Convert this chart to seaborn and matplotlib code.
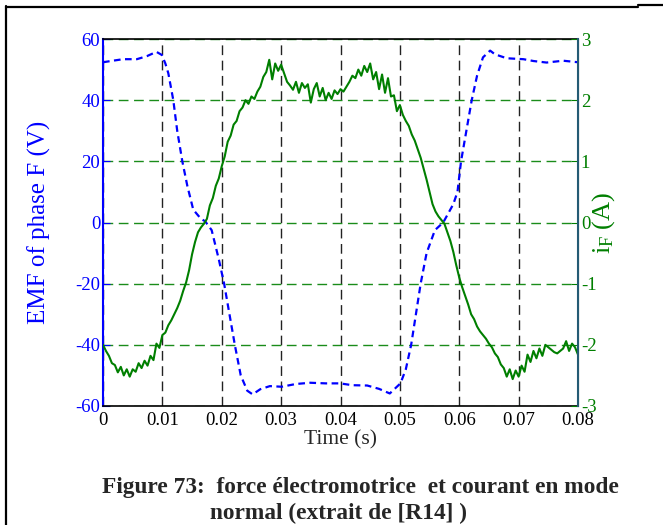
import numpy as np
import pandas as pd
import matplotlib
matplotlib.use("Agg")
import matplotlib.pyplot as plt
import seaborn as sns
from matplotlib.lines import Line2D

# EMF of phase F (V)
emf_time = [0.0, 0.002, 0.0034, 0.0057, 0.0074, 0.009, 0.0099, 0.0105, 0.011,
            0.01184, 0.0125, 0.01336, 0.0142, 0.0152, 0.0165, 0.0172, 0.0183,
            0.0195, 0.0204, 0.0213, 0.0222, 0.0232, 0.0243, 0.0252, 0.0265,
            0.0281, 0.0301, 0.0325, 0.0349, 0.0375, 0.0399, 0.042, 0.0445,
            0.0465, 0.0483, 0.0501, 0.051, 0.0519, 0.0527, 0.0535, 0.0545,
            0.0559, 0.0573, 0.059, 0.0597, 0.0603, 0.0612, 0.0621, 0.063,
            0.064, 0.0652, 0.066, 0.068, 0.0708, 0.0725, 0.0747, 0.0775, 0.08]
emf_values = [52.4, 53.0, 53.4, 53.4, 54.4, 55.8, 54.8, 52.0, 48.8,
              40.0, 30.0, 20.0, 12.0, 4.2, 1.2, 0.4, -2.5,
              -12.0, -20.0, -30.0, -40.0, -50.0, -55.0, -56.2, -54.5,
              -53.5, -53.7, -52.8, -52.4, -52.6, -52.6, -53.2, -53.3,
              -54.4, -55.9, -52.6, -48.0, -40.0, -30.0, -20.0, -10.0,
              -2.5, 0.0, 6.0, 10.0, 20.0, 30.0, 40.0, 48.0,
              54.0, 56.2, 55.0, 53.7, 53.4, 52.8, 52.3, 52.9, 52.4]

# phase current i_F (A), one reading every 0.5 ms
current_values = [
    -2.00, -2.10, -2.18, -2.30, -2.33, -2.45, -2.36, -2.50, -2.40, -2.52,
    -2.40, -2.44, -2.30, -2.38, -2.26, -2.34, -2.18, -2.25, -1.98, -2.05,
    -1.84, -1.80, -1.68, -1.60, -1.50, -1.40, -1.28, -1.12, -0.98, -0.78,
    -0.52, -0.32, -0.16, -0.08, -0.02, 0.06, 0.28, 0.40, 0.60, 0.72,
    0.92, 1.08, 1.32, 1.42, 1.60, 1.66, 1.82, 1.88, 2.00, 1.94,
    2.06, 2.02, 2.14, 2.22, 2.38, 2.46, 2.66, 2.34, 2.60, 2.48,
    2.58, 2.44, 2.30, 2.24, 2.17, 2.30, 2.12, 2.28, 2.20, 2.26,
    1.96, 2.18, 2.28, 2.06, 2.20, 2.00, 2.12, 2.02, 2.16, 2.10,
    2.18, 2.14, 2.22, 2.30, 2.40, 2.36, 2.50, 2.40, 2.56, 2.46,
    2.60, 2.34, 2.46, 2.18, 2.42, 2.12, 2.36, 2.06, 2.08, 1.82,
    1.92, 1.76, 1.66, 1.58, 1.44, 1.34, 1.20, 1.06, 0.88, 0.70,
    0.50, 0.30, 0.18, 0.10, 0.04, -0.02, -0.16, -0.30, -0.48, -0.70,
    -0.90, -1.06, -1.20, -1.34, -1.50, -1.58, -1.70, -1.78, -1.84, -1.90,
    -1.98, -2.04, -2.14, -2.20, -2.32, -2.38, -2.52, -2.40, -2.56, -2.42,
    -2.52, -2.34, -2.44, -2.16, -2.28, -2.10, -2.22, -2.06, -2.18, -2.00,
    -2.04, -2.08, -2.12, -2.14, -2.10, -2.06, -1.94, -2.10, -1.98, -2.04,
    -2.16]
current_time = np.linspace(0, 0.08, len(current_values))

x_ticks = [0, 0.01, 0.02, 0.03, 0.04, 0.05, 0.06, 0.07, 0.08]
x_tick_labels = ["0", "0.01", "0.02", "0.03", "0.04", "0.05", "0.06", "0.07", "0.08"]
emf_ticks = [-60, -40, -20, 0, 20, 40, 60]
current_ticks = [-3, -2, -1, 0, 1, 2, 3]

emf = pd.DataFrame({"t": emf_time, "emf": emf_values})
cur = pd.DataFrame({"t": current_time, "i": current_values})

BLUE = "#0000ff"
GREEN = "#007f00"

sns.set_style("white")
plt.rcParams['font.family'] = ['Liberation Serif', 'DejaVu Serif']
plt.rcParams['mathtext.fontset'] = 'custom'
plt.rcParams['mathtext.rm'] = 'Liberation Serif'
plt.rcParams['mathtext.it'] = 'Liberation Serif:italic'
plt.rcParams['axes.unicode_minus'] = False

fig = plt.figure(figsize=(6.63, 5.25), dpi=100)
ax = fig.add_axes([103 / 663, 1 - 406 / 525, 475 / 663, 367 / 525])
ax2 = ax.twinx()

# grid: black dashed verticals, green dashed horizontals
ax.set_axisbelow(True)
ax.xaxis.grid(True, color="#222222", linestyle=(0, (7, 4)), linewidth=1.0)
ax.yaxis.grid(True, color="#1a8c1a", linestyle=(0, (7, 4)), linewidth=1.0)

sns.lineplot(data=emf, x="t", y="emf", ax=ax, color=BLUE, linewidth=1.6)
ax.lines[-1].set_dashes([3, 2])
sns.lineplot(data=cur, x="t", y="i", ax=ax2, color=GREEN, linewidth=1.5)

ax.set_xlim(0, 0.08)
ax.set_ylim(-60, 60)
ax2.set_ylim(-3, 3)
ax.set_xticks(x_ticks)
ax.set_xticklabels(x_tick_labels)
ax.set_yticks(emf_ticks)
ax2.set_yticks(current_ticks)

ax.tick_params(axis="x", direction="in", length=5, colors="black",
               labelsize=13.5, pad=4)
ax.tick_params(axis="y", direction="in", length=5, colors=BLUE,
               labelsize=13.5, pad=2)
ax2.tick_params(axis="y", direction="in", length=5, colors=GREEN,
                labelsize=13.5, pad=2)

ax.set_xlabel("Time (s)", fontsize=15.5, labelpad=1)
ax.set_ylabel("EMF of phase F (V)", fontsize=18, color=BLUE)
ax.yaxis.set_label_coords(-0.11, 0.5)
ax2.set_ylabel(r"i$_{\mathregular{F}}$ (A)", fontsize=19, color=GREEN, rotation=90)
ax2.yaxis.set_label_coords(1.025, 0.5)

for side in ["top", "bottom"]:
    ax.spines[side].set_color("black")
    ax.spines[side].set_linewidth(1.2)
ax.spines["left"].set_color(BLUE)
ax.spines["left"].set_linewidth(1.5)
for side in ["left", "top", "bottom"]:
    ax2.spines[side].set_visible(False)
ax2.spines["right"].set_color("#245b74")
ax2.spines["right"].set_linewidth(1.5)

# caption below the chart
fig.text(102 / 663, 1 - 487 / 525, "Figure 73:  force électromotrice  et courant en mode",
         fontsize=16.8, fontweight="bold", va="center", ha="left")
fig.text(210 / 663, 1 - 513 / 525, "normal (extrait de [R14] )",
         fontsize=16.8, fontweight="bold", va="center", ha="left")

# border of the page frame
fig.add_artist(Line2D([6 / 663, 6 / 663], [0, 1 - 6 / 525], color="black", linewidth=1.6))
fig.add_artist(Line2D([6 / 663, 0.962], [1 - 7 / 525, 1 - 7 / 525], color="black", linewidth=1.6))
fig.add_artist(Line2D([0.962, 1], [1 - 5 / 525, 1 - 5 / 525], color="black", linewidth=1.6))

fig.savefig("out.png", dpi=100)
